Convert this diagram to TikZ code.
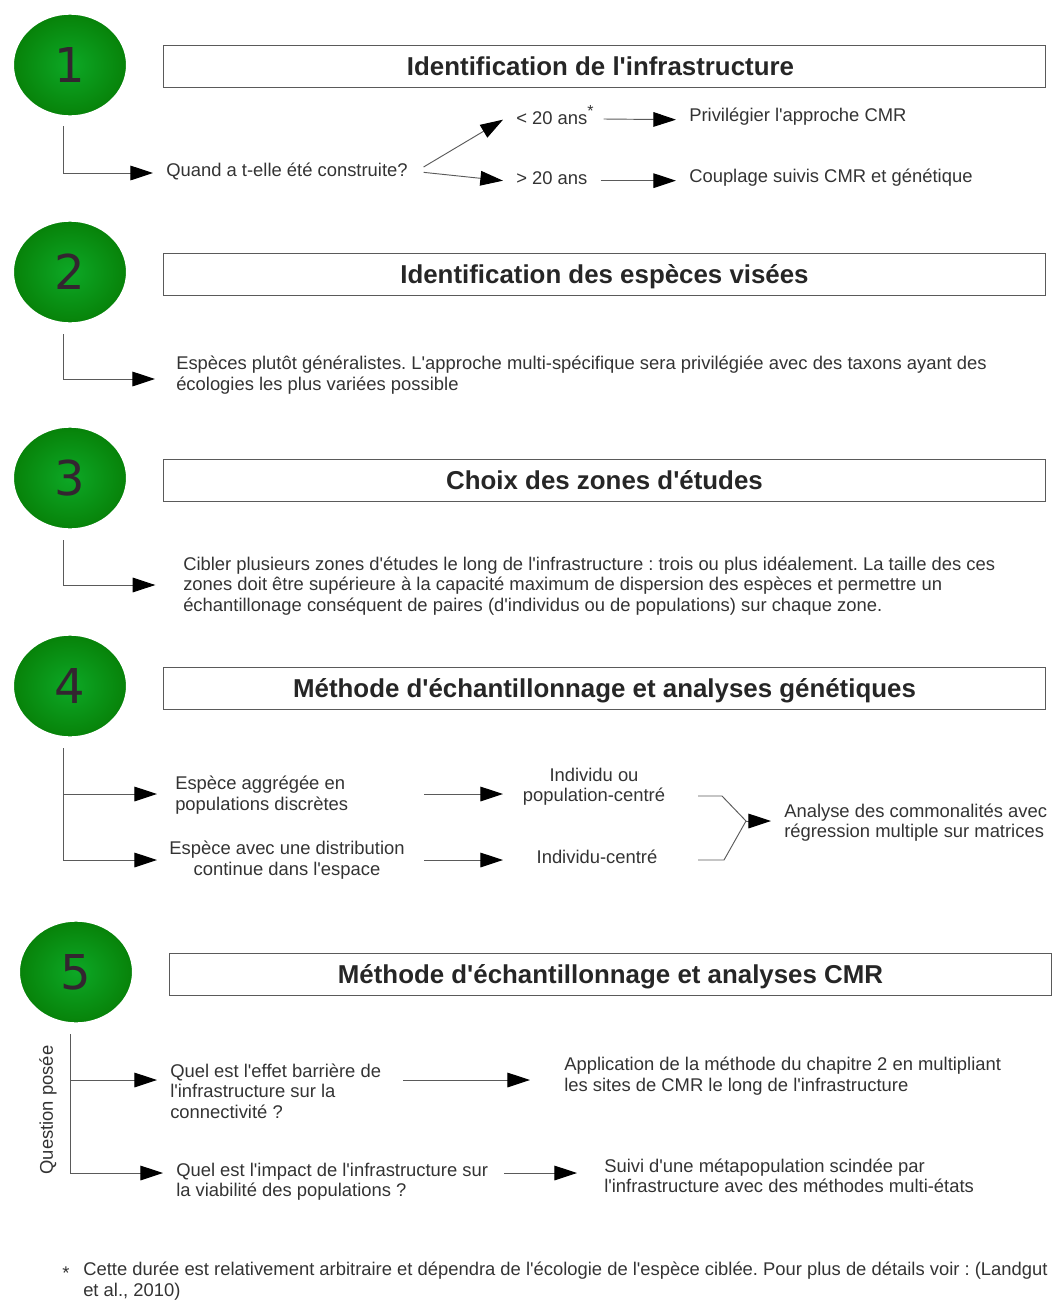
\documentclass[tikz,border=0pt]{standalone}
\usepackage{fontspec}
\setmainfont{Liberation Sans}[Ligatures=TeXOff]
\newfontfamily\numfont{DejaVu Sans}
\usetikzlibrary{arrows.meta,shapes.geometric}
\definecolor{inkline}{HTML}{5A5A5A}
\definecolor{inktext}{HTML}{333333}
\definecolor{ballin}{HTML}{0DA826}
\definecolor{ballout}{HTML}{078209}
\definecolor{ballnum}{HTML}{332530}
\tikzset{
  ball/.style={ellipse,inner sep=0pt,minimum width=85.5pt,minimum height=77pt,inner color=ballin,outer color=ballout,font=\numfont\fontsize{36}{36}\selectfont,text=ballnum,draw=white,line width=1.5pt},
  titlebox/.style={draw=inkline,line width=0.7pt,minimum height=31.5pt,inner sep=0pt,text=black!85,text height=14pt,text depth=0pt,font=\bfseries\fontsize{19.4}{22}\selectfont},
  lab/.style={anchor=west,align=left,inner xsep=9.75pt,inner ysep=0pt,yshift=-0.75pt,text=inktext,font=\fontsize{13.8}{15.4}\selectfont},
  labc/.style={anchor=center,align=center,inner xsep=9.75pt,inner ysep=0pt,yshift=-0.75pt,text=inktext,font=\fontsize{13.8}{15.4}\selectfont},
  conn/.style={draw=inkline,line width=0.7pt},
  arr/.style={conn,-{Triangle[length=17pt,width=11pt,color=black]}}
}
\begin{document}
\frenchspacing
\begin{tikzpicture}[x=0.75pt,y=-0.75pt]
\useasboundingbox (0,0) rectangle (1051,1300);
% step 1
\node[ball] (n1) at (70,65) {1};
\node[titlebox,minimum width=662pt] (t1) at (604.5,66.5) {Identification de l'infrastructure\hspace*{6pt}};
\coordinate (c1) at (63,126);
\node[lab] (q1) at (153,170) {Quand a t-elle été construite?};
\node[lab] (lt) at (503,114) {< 20 ans\raisebox{1pt}{\textsuperscript{\large *}}};
\node[lab] (gt) at (503,177) {> 20 ans};
\node[lab] (cmr) at (676,116) {Privilégier l'approche CMR};
\node[lab] (coup) at (676,177) {Couplage suivis CMR et génétique};
\draw[arr] (c1) |- ([yshift=-1.5pt]q1.west);
\draw[arr] ([xshift=2pt,yshift=3pt]q1.east) -- ([yshift=4pt]lt.south west);
\draw[arr] ([xshift=2pt,yshift=-1pt]q1.east) -- ([yshift=-2pt]gt.west);
\draw[arr] ([xshift=-3pt,yshift=-3pt]lt.east) -- ([yshift=-2pt]cmr.west);
\draw[arr] ([yshift=-2pt]gt.east) -- ([yshift=-2pt]coup.west);
% step 2
\node[ball] (n2) at (70,272) {2};
\node[titlebox,minimum width=662pt] (t2) at (604.5,274) {Identification des espèces visées};
\coordinate (c2) at (63,334);
\node[lab] (s2) at (163,374) {Espèces plutôt généralistes. L'approche multi-spécifique sera privilégiée avec des taxons ayant des\\écologies les plus variées possible};
\draw[arr] (c2) |- ([xshift=-6pt,yshift=-3pt]s2.west);
% step 3
\node[ball] (n3) at (70,478) {3};
\node[titlebox,minimum width=662pt] (t3) at (604.5,480) {Choix des zones d'études};
\coordinate (c3) at (63,540);
\node[lab] (s3) at (170,585) {Cibler plusieurs zones d'études le long de l'infrastructure : trois ou plus idéalement. La taille des ces\\zones doit être supérieure à la capacité maximum de dispersion des espèces et permettre un\\échantillonage conséquent de paires (d'individus ou de populations) sur chaque zone.};
\draw[arr] (c3) |- ([xshift=-11pt,yshift=0.75pt]s3.west);
% step 4
\node[ball] (n4) at (70,686) {4};
\node[titlebox,minimum width=662pt] (t4) at (604.5,688) {Méthode d'échantillonnage et analyses génétiques};
\coordinate (c4) at (63,748);
\coordinate (c4m) at (63,794);
\coordinate (c4e) at (157,794);
\coordinate (c4f) at (157,860);
\node[lab] (e1) at (162,794) {Espèce aggrégée en\\populations discrètes};
\node[labc] (e2) at (287,859) {Espèce avec une distribution\\continue dans l'espace};
\node[labc] (i1) at (594,785.5) {Individu ou\\population-centré};
\node[labc] (i2) at (597,856) {Individu-centré};
\node[lab] (an) at (771,821.5) {Analyse des commonalités avec\\régression multiple sur matrices};
\coordinate (e1e) at (424,794);
\coordinate (e2e) at (424,860);
\coordinate (i1w) at (503,794);
\coordinate (i2w) at (503,860);
\coordinate (b1) at (698,796);
\coordinate (b1k) at (722,796);
\coordinate (b2) at (698,860);
\coordinate (b2k) at (724,860);
\coordinate (bm) at (746,821);
\draw[conn] (c4) -- (c4 |- i2w);
\draw[arr] (c4m) -- (c4e);
\draw[arr] (c4 |- i2w) -- (c4f);
\draw[arr] (e1e) -- (i1w);
\draw[arr] (e2e) -- (i2w);
\draw[conn] (b1) -- (b1k) -- (bm) -- (b2k) -- (b2);
\draw[arr] (bm) -- (an.west |- bm);
% step 5
\node[ball] (n5) at (76,972) {5};
\node[titlebox,minimum width=661pt] (t5) at (610.5,974) {Méthode d'échantillonnage et analyses CMR};
\coordinate (c5) at (70,1034);
\node[lab] (q5a) at (157,1090) {Quel est l'effet barrière de\\l'infrastructure sur la\\connectivité ?};
\node[lab] (q5b) at (163,1180.5) {Quel est l'impact de l'infrastructure sur\\la viabilité des populations ?};
\node[lab] (r5a) at (551,1075) {Application de la méthode du chapitre 2 en multipliant\\les sites de CMR le long de l'infrastructure};
\node[lab] (r5b) at (591,1175) {Suivi d'une métapopulation scindée par\\l'infrastructure avec des méthodes multi-états};
\node[rotate=90,text=inktext,inner sep=0pt,font=\fontsize{13.8}{15.4}\selectfont] (qp) at (48,1110) {Question posée};
\coordinate (a5s) at (403,1080);
\coordinate (a5e) at (530,1080);
\coordinate (b5s) at (504,1173);
\coordinate (b5e) at (577,1173);
\coordinate (j5) at (70,1080);
\draw[arr] (c5) |- (q5b.west |- b5s);
\draw[arr] (j5) -- (q5a.west |- j5);
\draw[arr] (a5s) -- (a5e);
\draw[arr] (b5s) -- (b5e);
% footnote
\node[anchor=west,inner sep=0pt,text=inktext,font=\fontsize{13.8}{15.4}\selectfont] (st) at (62,1273) {*};
\node[anchor=west,align=left,inner sep=0pt,text=inktext,font=\fontsize{13.8}{15.4}\selectfont] (fn) at (83,1281) {Cette durée est relativement arbitraire et dépendra de l'écologie de l'espèce ciblée. Pour plus de détails voir : (Landgut\\et al., 2010)};
\end{tikzpicture}
\end{document}
